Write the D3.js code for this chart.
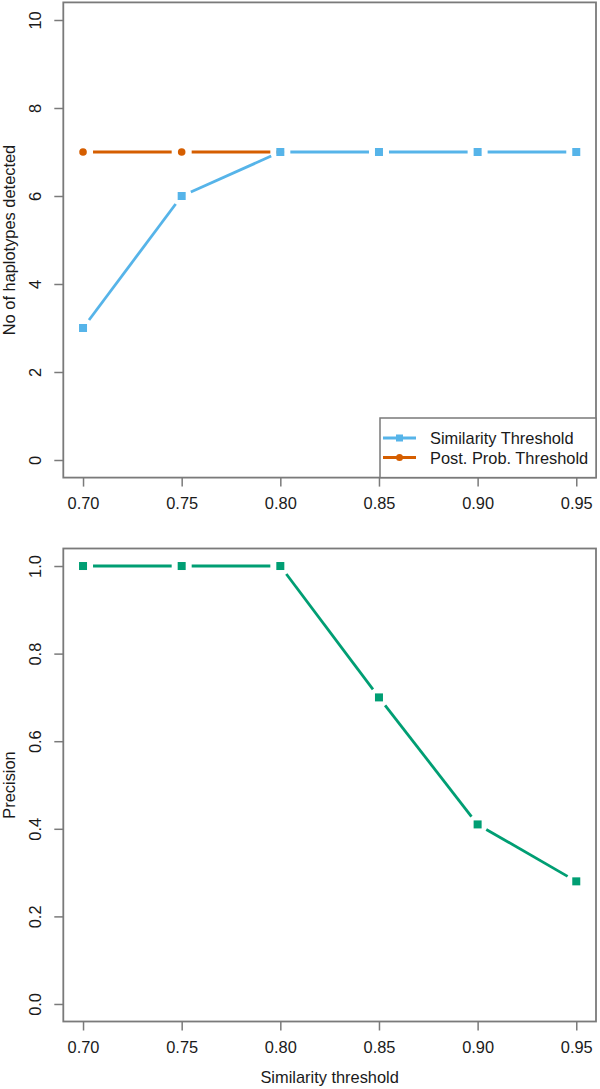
<!DOCTYPE html>
<html>
<head>
<meta charset="utf-8">
<script src="https://cdn.jsdelivr.net/npm/d3@7"></script>
<style>
  body { margin: 0; background: #fff; }
  text { font-family: "Liberation Sans", Arial, sans-serif; fill: #1a1a1a; }
</style>
</head>
<body>
<svg id="chart"></svg>
<script>
// data
const thresholds = [0.70, 0.75, 0.80, 0.85, 0.90, 0.95];
const similarityCounts = [3, 6, 7, 7, 7, 7];
const postProbThresholds = [0.70, 0.75, 0.80];
const postProbCounts = [7, 7, 7];
const precision = [1.0, 1.0, 1.0, 0.70, 0.41, 0.28];
const topTicks = [0, 2, 4, 6, 8, 10];
const bottomTicks = [0.0, 0.2, 0.4, 0.6, 0.8, 1.0];
const legendLabels = ["Similarity Threshold", "Post. Prob. Threshold"];

const W = 600, H = 1089;
const blue = "#56B4E9", orange = "#D55E00", green = "#009E73";
const boxColor = "#7a7a7a";
const fontSize = 16.4;

const svg = d3.select("#chart").attr("width", W).attr("height", H);

// x scale shared (R style 4% padding)
const x = d3.scaleLinear().domain([0.69, 0.96]).range([63.3, 596]);

function panel(top, bottom, yDomain, ticks, fmt, ylabel, xlabel) {
  const span = yDomain[1] - yDomain[0];
  const y = d3.scaleLinear()
    .domain([yDomain[0] - span * 0.04, yDomain[1] + span * 0.04])
    .range([bottom, top]);

  const g = svg.append("g");

  // y axis
  const ya = g.append("g")
    .attr("transform", "translate(" + x.range()[0] + ",0)")
    .call(d3.axisLeft(y).tickValues(ticks).tickFormat(fmt).tickSize(9));
  ya.select(".domain").remove();
  ya.selectAll("line").attr("stroke", boxColor).attr("stroke-width", 1.5);
  ya.selectAll("text")
    .attr("x", null).attr("dy", null)
    .attr("text-anchor", "middle")
    .attr("transform", "translate(-22.5,0) rotate(-90)")
    .style("font-size", fontSize + "px")
    .style("font-family", "Liberation Sans, Arial, sans-serif")
    .attr("fill", "#1a1a1a");

  // x axis
  const xa = g.append("g")
    .attr("transform", "translate(0," + bottom + ")")
    .call(d3.axisBottom(x).tickValues(thresholds).tickFormat(d3.format(".2f")).tickSize(9).tickPadding(11));
  xa.select(".domain").remove();
  xa.selectAll("line").attr("stroke", boxColor).attr("stroke-width", 1.5);
  xa.selectAll("text")
    .style("font-size", fontSize + "px")
    .style("font-family", "Liberation Sans, Arial, sans-serif")
    .attr("fill", "#1a1a1a");

  // box
  g.append("rect")
    .attr("x", x.range()[0]).attr("y", top)
    .attr("width", x.range()[1] - x.range()[0])
    .attr("height", bottom - top)
    .attr("fill", "none")
    .attr("stroke", boxColor).attr("stroke-width", 1.8);

  g.append("text")
    .attr("transform", "translate(14.5," + ((top + bottom) / 2) + ") rotate(-90)")
    .attr("text-anchor", "middle")
    .style("font-size", fontSize + "px")
    .text(ylabel);

  if (xlabel) {
    g.append("text")
      .attr("x", (x.range()[0] + x.range()[1]) / 2)
      .attr("y", bottom + 61)
      .attr("text-anchor", "middle")
      .style("font-size", fontSize + "px")
      .text(xlabel);
  }
  return { g, y };
}

// type="b" style: segments with gaps around points
function drawSeries(g, xs, ys, y, color, shape) {
  const pts = xs.map((v, i) => [x(v), y(ys[i])]);
  const gap = 10;
  const segs = [];
  for (let i = 0; i < pts.length - 1; i++) {
    const [x0, y0] = pts[i], [x1, y1] = pts[i + 1];
    const len = Math.hypot(x1 - x0, y1 - y0);
    if (len <= 2 * gap) continue;
    const ux = (x1 - x0) / len, uy = (y1 - y0) / len;
    segs.push([x0 + ux * gap, y0 + uy * gap, x1 - ux * gap, y1 - uy * gap]);
  }
  g.selectAll(null).data(segs).enter().append("line")
    .attr("x1", d => d[0]).attr("y1", d => d[1])
    .attr("x2", d => d[2]).attr("y2", d => d[3])
    .attr("stroke", color).attr("stroke-width", 2.8);

  if (shape === "square") {
    g.selectAll(null).data(pts).enter().append("rect")
      .attr("x", d => d[0] - 4).attr("y", d => d[1] - 4)
      .attr("width", 8).attr("height", 8)
      .attr("fill", color);
  } else {
    g.selectAll(null).data(pts).enter().append("circle")
      .attr("cx", d => d[0]).attr("cy", d => d[1])
      .attr("r", 3.8).attr("fill", color);
  }
}

// top panel
const p1 = panel(2.4, 477.6, [0, 10], topTicks, d3.format("d"), "No of haplotypes detected", null);
drawSeries(p1.g, postProbThresholds, postProbCounts, p1.y, orange, "circle");
drawSeries(p1.g, thresholds, similarityCounts, p1.y, blue, "square");

// legend
const lg = p1.g.append("g");
lg.append("rect")
  .attr("x", 380).attr("y", 418)
  .attr("width", 596 - 380).attr("height", 477.6 - 418)
  .attr("fill", "#fff").attr("stroke", boxColor).attr("stroke-width", 1.5);
const legendItems = [
  { label: legendLabels[0], color: blue, shape: "square" },
  { label: legendLabels[1], color: orange, shape: "circle" }
];
legendItems.forEach((d, i) => {
  const cy = 438 + i * 19.5;
  lg.append("line")
    .attr("x1", 383).attr("x2", 416).attr("y1", cy).attr("y2", cy)
    .attr("stroke", d.color).attr("stroke-width", 2.8);
  if (d.shape === "square") {
    lg.append("rect").attr("x", 396).attr("y", cy - 3.5).attr("width", 7).attr("height", 7).attr("fill", d.color);
  } else {
    lg.append("circle").attr("cx", 399.5).attr("cy", cy).attr("r", 3.5).attr("fill", d.color);
  }
  lg.append("text")
    .attr("x", 430).attr("y", cy + 6)
    .style("font-size", fontSize + "px")
    .text(d.label);
});

// bottom panel
const p2 = panel(548.5, 1021.5, [0, 1], bottomTicks, d3.format(".1f"), "Precision", "Similarity threshold");
drawSeries(p2.g, thresholds, precision, p2.y, green, "square");
</script>
</body>
</html>
